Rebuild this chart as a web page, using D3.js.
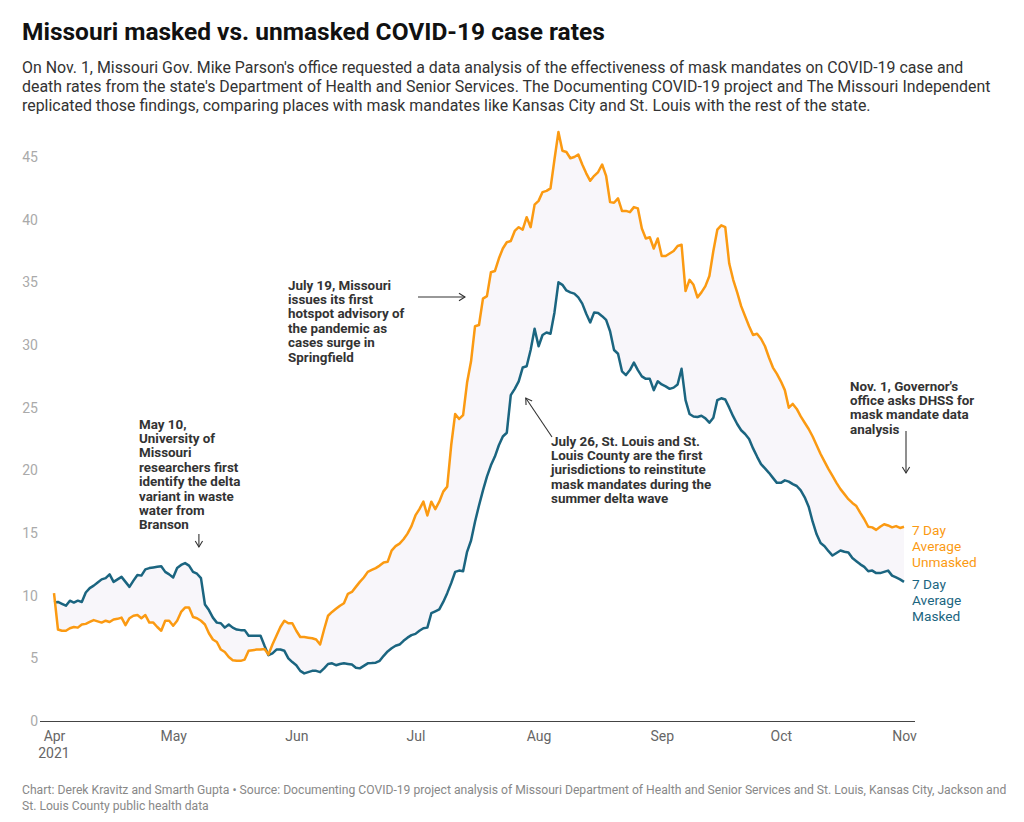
<!DOCTYPE html>
<html><head><meta charset="utf-8">
<script src="https://cdn.jsdelivr.net/npm/d3@7"></script>
<style>
body{margin:0;background:#fff;font-family:Roboto,"Noto Sans",sans-serif;}
svg text{font-family:Roboto,"Noto Sans",sans-serif;}
</style></head><body>
<svg id="c" width="1024" height="822"></svg>
<script>
// ---------- DATA ----------
const startDate = "2021-04-01"; // daily series, one value per day
const unmasked = [
10.2,7.3,7.2,7.2,7.4,7.5,7.45,7.7,7.75,7.9,
8.05,7.95,7.85,8.0,7.9,8.1,8.15,8.25,7.65,8.2,
8.4,8.45,8.2,8.45,7.85,7.85,7.5,7.2,8.0,8.0,
7.6,8.0,8.7,9.05,9.05,8.3,8.2,8.0,7.7,7.0,
6.5,6.3,5.7,5.5,5.1,4.85,4.8,4.8,4.9,5.6,
5.65,5.7,5.7,5.75,5.3,6.1,6.8,7.5,8.0,7.8,
7.8,7.2,6.7,6.7,6.65,6.6,6.5,6.1,7.3,8.4,
8.7,8.95,9.2,9.4,10.15,10.3,10.7,11.1,11.45,11.9,
12.05,12.2,12.4,12.65,12.7,13.6,13.95,14.15,14.5,14.95,
15.55,16.4,16.9,17.5,16.4,17.5,16.9,17.5,18.3,18.7,
22.0,24.5,24.1,24.4,27.0,28.7,31.5,31.6,33.7,33.9,
35.8,35.9,36.9,37.7,38.2,38.3,39.1,39.4,39.2,40.2,
39.4,41.2,41.5,42.2,42.3,42.5,44.8,47.0,45.5,45.4,
44.9,45.0,45.2,44.4,43.7,43.1,43.5,43.8,44.4,43.5,
41.4,41.35,41.7,40.7,40.7,40.6,41.0,40.9,39.3,38.5,
38.6,37.7,38.5,37.1,37.1,37.3,37.5,37.9,38.0,34.3,
35.2,34.8,33.8,34.2,34.7,35.5,37.5,39.2,39.55,39.4,
36.5,35.2,34.2,33.1,32.3,31.5,30.8,30.9,30.5,29.9,
29.0,28.2,27.7,27.1,26.4,25.0,25.3,24.9,24.3,23.8,
23.3,22.7,22.0,21.3,20.7,20.1,19.55,19.0,18.5,18.1,
17.7,17.4,17.15,16.6,16.1,15.5,15.45,15.25,15.5,15.7,
15.6,15.45,15.55,15.4,15.5];
const masked = [
9.45,9.5,9.35,9.2,9.6,9.45,9.6,9.5,10.25,10.6,
10.8,11.05,11.3,11.4,11.7,11.1,11.3,11.5,11.1,10.7,
11.2,11.65,11.6,12.1,12.2,12.25,12.3,12.35,11.9,11.7,
11.45,12.2,12.45,12.6,12.4,11.9,11.75,11.4,9.3,8.85,
8.25,7.85,7.8,7.45,7.7,7.45,7.3,7.25,7.25,6.8,
6.8,6.8,6.8,6.0,5.25,5.4,5.7,5.7,5.6,5.0,
4.7,4.45,4.0,3.8,3.9,4.0,4.0,3.9,4.2,4.55,
4.6,4.45,4.55,4.6,4.55,4.5,4.25,4.2,4.4,4.6,
4.62,4.65,4.8,5.2,5.55,5.8,6.0,6.1,6.4,6.65,
6.85,6.95,7.2,7.4,7.45,8.6,8.75,8.9,9.5,10.2,
11.0,11.9,12.0,11.95,13.5,14.4,15.9,17.2,18.4,19.5,
20.4,21.1,22.0,22.7,23.0,26.0,26.5,27.1,28.2,28.3,
29.6,31.3,29.9,30.8,31.0,30.9,32.6,35.0,34.8,34.35,
34.2,34.1,33.8,33.3,32.5,31.8,32.6,32.55,32.3,32.0,
31.1,29.6,29.3,27.9,27.6,28.0,28.6,28.0,27.5,27.3,
27.3,26.4,27.1,26.85,26.7,26.5,26.6,26.85,28.1,25.6,
24.5,24.3,24.25,24.35,24.15,23.8,24.2,25.6,25.75,25.65,
25.0,24.3,23.7,23.2,22.9,22.5,21.75,21.1,20.5,20.15,
19.8,19.4,19.0,19.0,19.2,19.1,18.9,18.75,18.4,17.85,
17.1,15.9,14.9,14.2,13.95,13.55,13.2,13.4,13.6,13.5,
13.45,13.0,12.75,12.5,12.3,11.95,12.0,11.8,11.8,11.9,
12.0,11.6,11.45,11.3,11.1];
const yTicks = [0,5,10,15,20,25,30,35,40,45];
const monthTicks = ["2021-04-01","2021-05-01","2021-06-01","2021-07-01","2021-08-01","2021-09-01","2021-10-01","2021-11-01"];
const monthLabels = ["Apr","May","Jun","Jul","Aug","Sep","Oct","Nov"];
const seriesLabels = [["7 Day","Average","Unmasked"],["7 Day","Average","Masked"]];
const annotations = [
  {date:"2021-05-10", lines:["May 10,","University of","Missouri","researchers first","identify the delta","variant in waste","water from","Branson"]},
  {date:"2021-07-19", lines:["July 19, Missouri","issues its first","hotspot advisory of","the pandemic as","cases surge in","Springfield"]},
  {date:"2021-07-26", lines:["July 26, St. Louis and St.","Louis County are the first","jurisdictions to reinstitute","mask mandates during the","summer delta wave"]},
  {date:"2021-11-01", lines:["Nov. 1, Governor's","office asks DHSS for","mask mandate data","analysis"]}
];
const titleText = "Missouri masked vs. unmasked COVID-19 case rates";
const subtitleLines = [
 "On Nov. 1, Missouri Gov. Mike Parson's office requested a data analysis of the effectiveness of mask mandates on COVID-19 case and",
 "death rates from the state's Department of Health and Senior Services. The Documenting COVID-19 project and The Missouri Independent",
 "replicated those findings, comparing places with mask mandates like Kansas City and St. Louis with the rest of the state."];
const footerLines = [
 "Chart: Derek Kravitz and Smarth Gupta \u2022 Source: Documenting COVID-19 project analysis of Missouri Department of Health and Senior Services and St. Louis, Kansas City, Jackson and",
 "St. Louis County public health data"];

// ---------- CHART ----------
const ORANGE = "#fb9a12", BLUE = "#1b6580", FILL = "#f8f6fa";
const parse = d3.utcParse("%Y-%m-%d");
const start = parse(startDate);
const rows = unmasked.map((u,i)=>({date:d3.utcDay.offset(start,i), u, m:masked[i]}));

const svg = d3.select("#c");
const x = d3.scaleUtc().domain([parse("2021-04-01"), parse("2021-11-01")]).range([54, 904]);
const y = d3.scaleLinear().domain([0,45]).range([721,157]);

// title / subtitle
svg.append("text").attr("x",22).attr("y",40).attr("font-size",24.5).attr("font-weight",700)
  .attr("fill","#111").text(titleText);
svg.append("g").selectAll("text").data(subtitleLines).join("text")
  .attr("x",22).attr("y",(d,i)=>72.5+i*19.2).attr("font-size",15.9).attr("fill","#333").text(d=>d);

// area between
svg.append("path").datum(rows).attr("fill",FILL)
  .attr("d", d3.area().x(d=>x(d.date)).y0(d=>y(d.m)).y1(d=>y(d.u)));

// y axis
const ya = svg.append("g").attr("transform","translate(40,0)")
  .call(d3.axisLeft(y).tickValues(yTicks).tickSize(0).tickPadding(2));
ya.select(".domain").remove();
ya.selectAll("text").attr("font-size",14).attr("fill","#aaa").attr("font-family","Roboto");

// x axis
const xa = svg.append("g").attr("transform","translate(0,721)")
  .call(d3.axisBottom(x).tickValues(monthTicks.map(parse)).tickSize(0).tickPadding(10)
    .tickFormat((d,i)=>monthLabels[i]));
xa.select(".domain").remove();
xa.selectAll("text").attr("font-size",14).attr("fill","#666").attr("font-family","Roboto");
xa.append("text").attr("x",x(parse(monthTicks[0]))).attr("y",37).attr("text-anchor","middle")
  .attr("font-size",14).attr("fill","#666").attr("font-family","Roboto").text("2021");
svg.append("line").attr("x1",40).attr("x2",915).attr("y1",y(0)+0.5).attr("y2",y(0)+0.5)
  .attr("stroke","#444").attr("stroke-width",1);

// lines
const line = key => d3.line().x(d=>x(d.date)).y(d=>y(d[key]));
svg.append("path").datum(rows).attr("fill","none").attr("stroke",BLUE).attr("stroke-width",2.5)
  .attr("stroke-linejoin","round").attr("d",line("m"));
svg.append("path").datum(rows).attr("fill","none").attr("stroke",ORANGE).attr("stroke-width",2.5)
  .attr("stroke-linejoin","round").attr("d",line("u"));

// series labels
[[ORANGE, 530, seriesLabels[0]],[BLUE, 584, seriesLabels[1]]].forEach(([c,y0,ls])=>{
  svg.append("g").selectAll("text").data(ls).join("text")
    .attr("x",912).attr("y",(d,i)=>y0+5+i*15.8).attr("font-size",13.7).attr("fill",c).text(d=>d);
});

// annotations
function block(xl, yc, lines){
  svg.append("g").selectAll("text").data(lines).join("text")
    .attr("x",xl).attr("y",(d,i)=>yc+4.5+i*14.4).attr("font-size",13.4).attr("font-weight",700)
    .attr("fill","#333").text(d=>d);
}
function arrow(x1,y1,x2,y2){
  const g = svg.append("g").attr("stroke","#333").attr("stroke-width",1.1).attr("fill","none");
  g.append("line").attr("x1",x1).attr("y1",y1).attr("x2",x2).attr("y2",y2);
  const a = Math.atan2(y2-y1,x2-x1), L=7, w=0.55;
  g.append("path").attr("d",`M${x2-L*Math.cos(a-w)},${y2-L*Math.sin(a-w)}L${x2},${y2}L${x2-L*Math.cos(a+w)},${y2-L*Math.sin(a+w)}`);
}
const ax = d => x(parse(d));
block(139, 424, annotations[0].lines);
arrow(ax(annotations[0].date)-10, 534, ax(annotations[0].date)-10, 547);
block(288, 285, annotations[1].lines);
arrow(418, 297, ax(annotations[1].date)-22, 297);
block(551, 441, annotations[2].lines);
arrow(552, 437, ax(annotations[2].date)+11, 398);
block(850, 386, annotations[3].lines);
arrow(ax(annotations[3].date)+2, 431, ax(annotations[3].date)+2, 473);

// footer
svg.append("g").selectAll("text").data(footerLines).join("text")
  .attr("x",22).attr("y",(d,i)=>794+i*16).attr("font-size",12.15).attr("fill","#888").text(d=>d);
</script>
</body></html>
